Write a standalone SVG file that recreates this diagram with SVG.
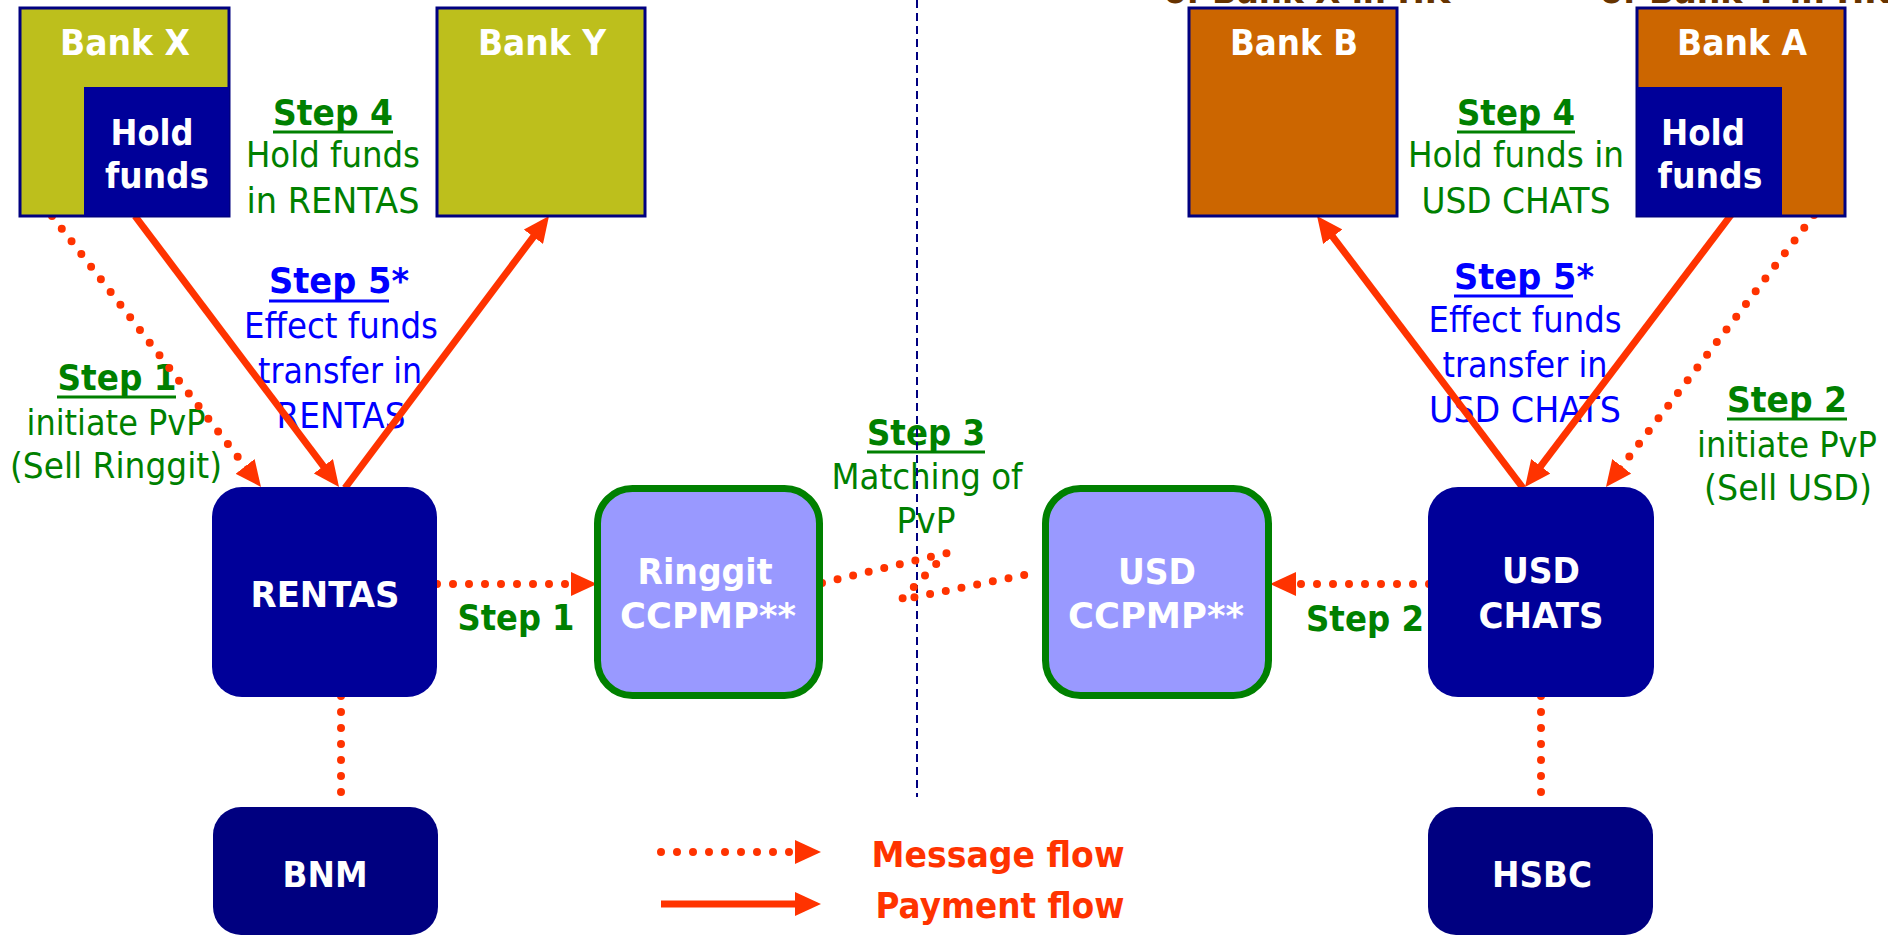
<svg xmlns="http://www.w3.org/2000/svg" width="1888" height="936" viewBox="0 0 1888 936">
<style>
text{font-family:"DejaVu Sans","Liberation Sans",sans-serif;font-size:36px;text-anchor:middle}
.b{font-weight:bold}
.w{fill:#ffffff}.g{fill:#008000}.bl{fill:#0000ff}.r{fill:#ff3300}.br{fill:#663300}
.pay{stroke:#ff3300;stroke-width:7;fill:none}
.msg{stroke:#ff3300;stroke-width:8;stroke-dasharray:0 16;stroke-linecap:round;fill:none}
.ulg{stroke:#008000;stroke-width:3}
.ulb{stroke:#0000ff;stroke-width:3}
.bk1{fill:#bdbf1c;stroke:#000080;stroke-width:3}
.bk2{fill:#cc6600;stroke:#000080;stroke-width:3}
.hold{fill:#000099}
.sys{fill:#000099}
.cb{fill:#000080}
.ccp{fill:#9999ff;stroke:#008000;stroke-width:7}
.sep{stroke:#000080;stroke-width:2;stroke-dasharray:8 5}
</style>
<defs>
<marker id="ah" markerUnits="userSpaceOnUse" markerWidth="26" markerHeight="24" viewBox="0 0 26 24" refX="10" refY="12" orient="auto">
<path d="M0,0 L26,12 L0,24 Z" fill="#ff3300"/>
</marker>
</defs>

<!-- cut-off captions at top -->
<g id="captions-top">
<text class="b br" x="1307" y="3" textLength="286" lengthAdjust="spacingAndGlyphs">of Bank X in HK</text>
<text class="b br" x="1745" y="3" textLength="290" lengthAdjust="spacingAndGlyphs">of Bank Y in HK</text>
</g>

<!-- labels -->
<g id="labels">
<g id="step4-left">
<text class="b g" x="333" y="125" textLength="120" lengthAdjust="spacingAndGlyphs">Step 4</text>
<line class="ulg" x1="273" y1="132" x2="393" y2="132"/>
<text class="g" x="333" y="167" textLength="174" lengthAdjust="spacingAndGlyphs">Hold funds</text>
<text class="g" x="333" y="213" textLength="173" lengthAdjust="spacingAndGlyphs">in RENTAS</text>
</g>
<g id="step5-left">
<text class="b bl" x="339" y="293" textLength="140" lengthAdjust="spacingAndGlyphs">Step 5*</text>
<line class="ulb" x1="269" y1="301" x2="389" y2="301"/>
<text class="bl" x="341" y="338" textLength="194" lengthAdjust="spacingAndGlyphs">Effect funds</text>
<text class="bl" x="340" y="383" textLength="164" lengthAdjust="spacingAndGlyphs">transfer in</text>
<text class="bl" x="341" y="428" textLength="129" lengthAdjust="spacingAndGlyphs">RENTAS</text>
</g>
<g id="step1-left">
<text class="b g" x="117" y="390" textLength="119" lengthAdjust="spacingAndGlyphs">Step 1</text>
<line class="ulg" x1="57" y1="397" x2="176" y2="397"/>
<text class="g" x="116" y="435" textLength="179" lengthAdjust="spacingAndGlyphs">initiate PvP</text>
<text class="g" x="116" y="478" textLength="212" lengthAdjust="spacingAndGlyphs">(Sell Ringgit)</text>
</g>
<text id="step1-arrow" class="b g" x="516" y="630" textLength="117" lengthAdjust="spacingAndGlyphs">Step 1</text>
<g id="step3">
<text class="b g" x="926" y="445" textLength="118" lengthAdjust="spacingAndGlyphs">Step 3</text>
<line class="ulg" x1="867" y1="452" x2="985" y2="452"/>
<text class="g" x="927" y="489" textLength="191" lengthAdjust="spacingAndGlyphs">Matching of</text>
<text class="g" x="926" y="533" textLength="59" lengthAdjust="spacingAndGlyphs">PvP</text>
</g>
<text id="step2-arrow" class="b g" x="1365" y="631" textLength="118" lengthAdjust="spacingAndGlyphs">Step 2</text>
<g id="step4-right">
<text class="b g" x="1516" y="125" textLength="118" lengthAdjust="spacingAndGlyphs">Step 4</text>
<line class="ulg" x1="1457" y1="132" x2="1575" y2="132"/>
<text class="g" x="1516" y="167" textLength="216" lengthAdjust="spacingAndGlyphs">Hold funds in</text>
<text class="g" x="1516" y="213" textLength="189" lengthAdjust="spacingAndGlyphs">USD CHATS</text>
</g>
<g id="step5-right">
<text class="b bl" x="1524" y="289" textLength="140" lengthAdjust="spacingAndGlyphs">Step 5*</text>
<line class="ulb" x1="1454" y1="296" x2="1573" y2="296"/>
<text class="bl" x="1525" y="332" textLength="193" lengthAdjust="spacingAndGlyphs">Effect funds</text>
<text class="bl" x="1525" y="377" textLength="165" lengthAdjust="spacingAndGlyphs">transfer in</text>
<text class="bl" x="1525" y="422" textLength="192" lengthAdjust="spacingAndGlyphs">USD CHATS</text>
</g>
<g id="step2-right">
<text class="b g" x="1787" y="412" textLength="120" lengthAdjust="spacingAndGlyphs">Step 2</text>
<line class="ulg" x1="1727" y1="419" x2="1847" y2="419"/>
<text class="g" x="1787" y="457" textLength="180" lengthAdjust="spacingAndGlyphs">initiate PvP</text>
<text class="g" x="1788" y="500" textLength="168" lengthAdjust="spacingAndGlyphs">(Sell USD)</text>
</g>
</g>

<!-- separator -->
<line id="separator" class="sep" x1="917" y1="0" x2="917" y2="797"/>

<!-- connectors -->
<g id="connectors">
<line class="pay" x1="135" y1="216" x2="329.4" y2="474.2" marker-end="url(#ah)"/>
<line class="pay" x1="345" y1="488" x2="539.4" y2="228.8" marker-end="url(#ah)"/>
<line class="pay" x1="1523" y1="488" x2="1326.7" y2="228.8" marker-end="url(#ah)"/>
<line class="pay" x1="1731" y1="215" x2="1534.7" y2="474.2" marker-end="url(#ah)"/>
<line class="msg" x1="52" y1="216" x2="251.2" y2="474.3" marker-end="url(#ah)"/>
<line class="msg" x1="1814" y1="215" x2="1615.7" y2="474.3" marker-end="url(#ah)"/>
<line class="msg" x1="437" y1="584" x2="581" y2="584" marker-end="url(#ah)"/>
<line class="msg" x1="1429" y1="584" x2="1286" y2="584" marker-end="url(#ah)"/>
<line class="msg" x1="341" y1="696" x2="341" y2="796"/>
<line class="msg" x1="1541" y1="696" x2="1541" y2="796"/>
<polyline class="msg" points="822,583 947,553 901,600 1034,573"/>
</g>

<!-- nodes -->
<g id="bank-x">
<rect class="bk1" x="20" y="8" width="209" height="208"/>
<rect class="hold" x="84" y="87" width="145" height="129"/>
<text class="b w" x="125" y="55" textLength="130" lengthAdjust="spacingAndGlyphs">Bank X</text>
<text class="b w" x="152" y="145" textLength="83" lengthAdjust="spacingAndGlyphs">Hold</text>
<text class="b w" x="157" y="188" textLength="104" lengthAdjust="spacingAndGlyphs">funds</text>
</g>
<g id="bank-y">
<rect class="bk1" x="437" y="8" width="208" height="208"/>
<text class="b w" x="542" y="55" textLength="128" lengthAdjust="spacingAndGlyphs">Bank Y</text>
</g>
<g id="bank-b">
<rect class="bk2" x="1189" y="8" width="208" height="208"/>
<text class="b w" x="1294" y="55" textLength="128" lengthAdjust="spacingAndGlyphs">Bank B</text>
</g>
<g id="bank-a">
<rect class="bk2" x="1637" y="8" width="208" height="208"/>
<rect class="hold" x="1637" y="87" width="145" height="129"/>
<text class="b w" x="1742" y="55" textLength="130" lengthAdjust="spacingAndGlyphs">Bank A</text>
<text class="b w" x="1703" y="145" textLength="84" lengthAdjust="spacingAndGlyphs">Hold</text>
<text class="b w" x="1710" y="188" textLength="105" lengthAdjust="spacingAndGlyphs">funds</text>
</g>
<g id="rentas">
<rect class="sys" x="212" y="487" width="225" height="210" rx="30"/>
<text class="b w" x="325" y="607" textLength="149" lengthAdjust="spacingAndGlyphs">RENTAS</text>
</g>
<g id="ringgit-ccpmp">
<rect class="ccp" x="597.5" y="488.5" width="222" height="207" rx="35"/>
<text class="b w" x="705" y="584" textLength="135" lengthAdjust="spacingAndGlyphs">Ringgit</text>
<text class="b w" x="708" y="628" textLength="176" lengthAdjust="spacingAndGlyphs">CCPMP**</text>
</g>
<g id="usd-ccpmp">
<rect class="ccp" x="1045.5" y="488.5" width="223" height="207" rx="35"/>
<text class="b w" x="1157" y="584" textLength="78" lengthAdjust="spacingAndGlyphs">USD</text>
<text class="b w" x="1156" y="628" textLength="176" lengthAdjust="spacingAndGlyphs">CCPMP**</text>
</g>
<g id="usd-chats">
<rect class="sys" x="1428" y="487" width="226" height="210" rx="30"/>
<text class="b w" x="1541" y="583" textLength="78" lengthAdjust="spacingAndGlyphs">USD</text>
<text class="b w" x="1541" y="628" textLength="125" lengthAdjust="spacingAndGlyphs">CHATS</text>
</g>
<g id="bnm">
<rect class="cb" x="213" y="807" width="225" height="128" rx="28"/>
<text class="b w" x="325" y="887" textLength="85" lengthAdjust="spacingAndGlyphs">BNM</text>
</g>
<g id="hsbc">
<rect class="cb" x="1428" y="807" width="225" height="128" rx="28"/>
<text class="b w" x="1542" y="887" textLength="100" lengthAdjust="spacingAndGlyphs">HSBC</text>
</g>

<!-- legend -->
<g id="legend">
<line class="msg" x1="661" y1="852" x2="805" y2="852" marker-end="url(#ah)"/>
<text class="b r" x="998" y="867" textLength="253" lengthAdjust="spacingAndGlyphs">Message flow</text>
<line class="pay" x1="661" y1="904" x2="805" y2="904" marker-end="url(#ah)"/>
<text class="b r" x="1000" y="918" textLength="249" lengthAdjust="spacingAndGlyphs">Payment flow</text>
</g>
</svg>
